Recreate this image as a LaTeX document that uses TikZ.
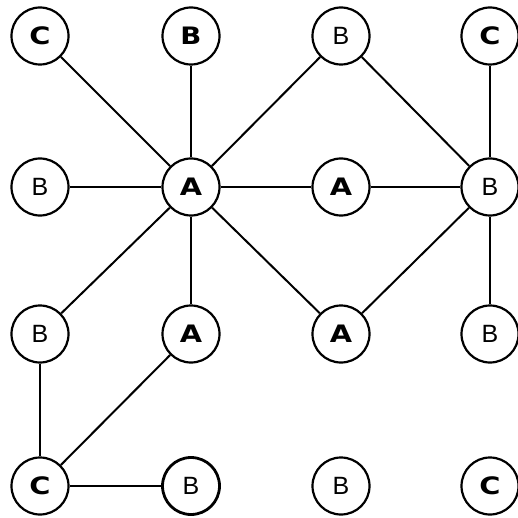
\documentclass[tikz,border=0pt]{standalone}
\usepackage{fontspec}
\setmainfont{Liberation Sans}
\newfontfamily\heavyfont{DejaVu Sans}
\begin{document}
\begin{tikzpicture}[x=1pt,y=-1pt,
  vtx/.style={circle,draw,line width=2.2pt,minimum size=57pt,inner sep=0pt,font=\fontsize{25}{25}\selectfont},
  bl/.style={vtx,font=\fontsize{24}{24}\selectfont\heavyfont\bfseries},
  edge/.style={line width=2pt}]
\useasboundingbox (0,0) rectangle (517,518);
% row 1
\node[bl] (c1) at (40,36) {\scalebox{1.2}[1]{C}};
\node[bl] (b1) at (191,36) {\scalebox{1.15}[1]{B}};
\node[vtx] (b2) at (341,36) {B};
\node[bl] (c2) at (490,36) {\scalebox{1.2}[1]{C}};
% row 2
\node[vtx] (b3) at (40,187) {B};
\node[bl] (a1) at (191,187) {\scalebox{1.2}[1]{A}};
\node[bl] (a2) at (341,187) {\scalebox{1.2}[1]{A}};
\node[vtx] (b4) at (490,187) {B};
% row 3
\node[vtx] (b5) at (40,334) {B};
\node[bl] (a3) at (191,334) {\scalebox{1.2}[1]{A}};
\node[bl] (a4) at (341,334) {\scalebox{1.2}[1]{A}};
\node[vtx] (b6) at (490,334) {B};
% row 4
\node[bl] (c3) at (40,486) {\scalebox{1.2}[1]{C}};
\node[vtx,line width=2.8pt] (b7) at (191,486) {B};
\node[vtx] (b8) at (341,486) {B};
\node[bl] (c4) at (490,486) {\scalebox{1.2}[1]{C}};
% edges
\draw[edge] (c1) -- (a1);
\draw[edge] (b1) -- (a1);
\draw[edge] (b2) -- (a1);
\draw[edge] (b2) -- (b4);
\draw[edge] (c2) -- (b4);
\draw[edge] (b3) -- (a1);
\draw[edge] (a1) -- (a2);
\draw[edge] (a2) -- (b4);
\draw[edge] (a1) -- (b5);
\draw[edge] (a1) -- (a3);
\draw[edge] (a1) -- (a4);
\draw[edge] (b4) -- (a4);
\draw[edge] (b4) -- (b6);
\draw[edge] (b5) -- (c3);
\draw[edge] (a3) -- (c3);
\draw[edge] (c3) -- (b7);
\end{tikzpicture}
\end{document}
